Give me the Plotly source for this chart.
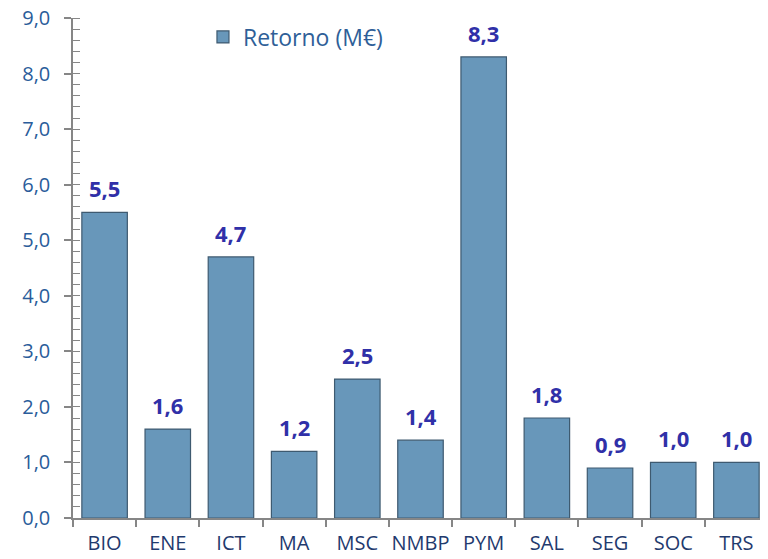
import plotly.graph_objects as go

categories = ["BIO", "ENE", "ICT", "MA", "MSC", "NMBP", "PYM", "SAL", "SEG", "SOC", "TRS"]
retorno = [5.5, 1.6, 4.7, 1.2, 2.5, 1.4, 8.3, 1.8, 0.9, 1.0, 1.0]

fig = go.Figure()
fig.add_trace(go.Bar(
    x=categories, y=retorno, name="Retorno (M€)",
    marker=dict(color="#6897BA", line=dict(color="#3E5A70", width=1.2)),
    width=0.72,
))

# value labels above the bars
for c, v in zip(categories, retorno):
    fig.add_annotation(
        x=c, y=v, text="<b>" + f"{v:.1f}".replace(".", ",") + "</b>",
        showarrow=False, yanchor="bottom", yshift=7,
        font=dict(family="Open Sans", size=22, color="#3030A8"),
    )

# page body has an 8px margin, so the figure is sized to fit the window
fig.update_layout(
    width=760, height=551,
    margin=dict(l=65, r=0, t=10, b=41, autoexpand=False),
    paper_bgcolor="white", plot_bgcolor="white",
    font=dict(family="Open Sans", size=21),
    showlegend=True,
    legend=dict(x=0.187, y=0.962, xanchor="left", yanchor="middle",
                font=dict(size=23, color="#2F5F98"), bgcolor="rgba(0,0,0,0)"),
    separators=",.",
)
fig.update_yaxes(
    range=[0, 9], dtick=1, tickformat=".1f", automargin=False,
    showgrid=False, showline=True, linecolor="#868686", linewidth=1.5,
    ticks="outside", ticklen=7, tickcolor="#868686", tickwidth=1.5,
    ticklabelstandoff=10, ticklabeloverflow="allow",
    tickfont=dict(color="#2A5C9A", size=20),
    minor=dict(dtick=0.2, ticks="inside", ticklen=7, tickcolor="#868686", tickwidth=1.2),
    zeroline=False,
)
fig.update_xaxes(
    showline=True, linecolor="#868686", linewidth=1.5, automargin=False,
    ticks="outside", tickson="boundaries", ticklen=7, tickcolor="#868686", tickwidth=1.5,
    tickangle=0, ticklabelstandoff=6, ticklabeloverflow="allow",
    tickfont=dict(color="#1F3A6E", size=20),
    range=[-0.5, 10.5],
)

fig.write_html("out.html")
